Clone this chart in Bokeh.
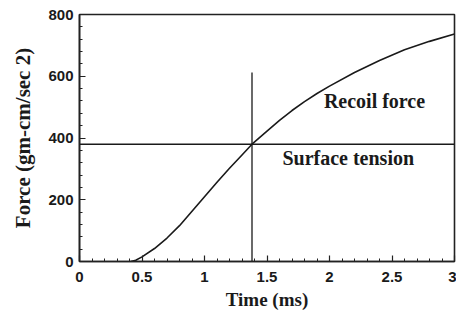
from bokeh.plotting import figure
from bokeh.models import Range1d, FixedTicker, Label
from bokeh.embed import file_html
from bokeh.resources import INLINE

# Recoil force curve (time in ms, force in gm-cm/sec^2)
time_ms = [0.41, 0.45, 0.50, 0.60, 0.70, 0.80, 0.90, 1.00, 1.10, 1.20, 1.30, 1.38,
           1.50, 1.60, 1.70, 1.80, 1.90, 2.00, 2.20, 2.40, 2.60, 2.80, 3.00]
recoil_force = [0, 4, 15, 42, 76, 116, 163, 210, 257, 302, 345, 380,
                422, 457, 489, 518, 544, 568, 612, 651, 686, 713, 737]

# Surface tension (constant) and crossing marker
surface_tension = 380
tension_span = [0, 3]
cross_time = 1.38
cross_marker_top = 612

x_ticks = [0, 0.5, 1, 1.5, 2, 2.5, 3]
x_tick_labels = ["0", "0.5", "1", "1.5", "2", "2.5", "3"]
x_minor = [i / 10 for i in range(0, 31)]
y_ticks = [0, 200, 400, 600, 800]
y_tick_labels = ["0", "200", "400", "600", "800"]
y_minor = list(range(0, 801, 40))

label_recoil = ("Recoil force", 2.36, 520)
label_tension = ("Surface tension", 2.15, 336)

p = figure(width=456, height=312, output_backend="svg", toolbar_location=None,
           x_range=Range1d(0, 3), y_range=Range1d(0, 800),
           min_border_left=79, min_border_right=2, min_border_top=14, min_border_bottom=49)
p.background_fill_color = "white"
p.border_fill_color = "white"
p.outline_line_color = "#222222"
p.outline_line_width = 1.6
p.grid.visible = False

p.line(time_ms, recoil_force, line_color="#1a1a1a", line_width=1.6, line_join="round")
p.line(tension_span, [surface_tension, surface_tension], line_color="#1a1a1a", line_width=1.6)
p.line([cross_time, cross_time], [0, cross_marker_top], line_color="#1a1a1a", line_width=1.3)

for ax in (p.xaxis[0], p.yaxis[0]):
    ax.axis_line_color = "#222222"
    ax.axis_line_width = 1.6
    ax.major_tick_in = 6
    ax.major_tick_out = 0
    ax.minor_tick_in = 3
    ax.minor_tick_out = 0
    ax.major_tick_line_color = "#222222"
    ax.minor_tick_line_color = "#222222"
    ax.major_tick_line_width = 1.2
    ax.minor_tick_line_width = 1
    ax.major_label_text_font = "Liberation Sans"
    ax.major_label_text_font_style = "bold"
    ax.major_label_text_font_size = "15px"
    ax.major_label_text_color = "#1a1a1a"
    ax.axis_label_text_font = "Liberation Serif"
    ax.axis_label_text_font_style = "bold"
    ax.axis_label_text_color = "#1a1a1a"

p.xaxis.axis_label_text_font_size = "19px"
p.yaxis.axis_label_text_font_size = "21px"
p.xaxis.ticker = FixedTicker(ticks=x_ticks, minor_ticks=x_minor)
p.yaxis.ticker = FixedTicker(ticks=y_ticks, minor_ticks=y_minor)
p.xaxis.major_label_overrides = {t: s for t, s in zip(x_ticks, x_tick_labels)}
p.yaxis.major_label_overrides = {t: s for t, s in zip(y_ticks, y_tick_labels)}
p.xaxis.major_label_standoff = 10
p.yaxis.major_label_standoff = 6
p.xaxis.axis_label = "Time (ms)"
p.yaxis.axis_label = "Force (gm-cm/sec 2)"
p.xaxis.axis_label_standoff = 4
p.yaxis.axis_label_standoff = 10

for txt, x, y in (label_recoil, label_tension):
    p.add_layout(Label(x=x, y=y, text=txt, text_align="center", text_baseline="middle",
                       text_font="Liberation Serif", text_font_style="bold",
                       text_font_size="20px", text_color="#1a1a1a"))

open("out.html", "w").write(file_html(p, INLINE))
